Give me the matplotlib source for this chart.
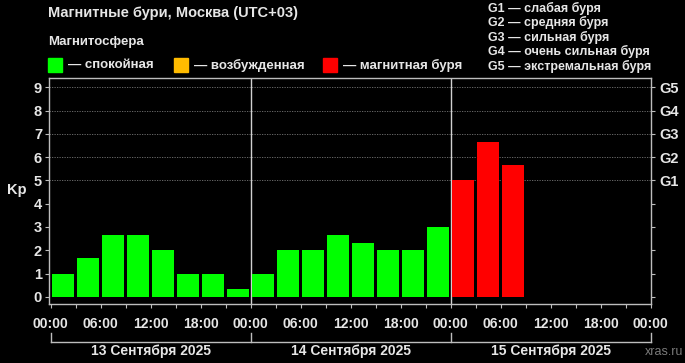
import matplotlib
matplotlib.use("Agg")
import matplotlib.pyplot as plt
from matplotlib.transforms import blended_transform_factory

plt.rcParams['font.family'] = ['Liberation Sans', 'DejaVu Sans']
plt.rcParams['font.weight'] = 'bold'

# Kp index, 3-hour intervals starting 13 Sep 2025 00:00 (UTC+03)
kp_values = [1, 1.67, 2.67, 2.67, 2, 1, 1, 0.33,
             1, 2, 2, 2.67, 2.33, 2, 2, 3,
             5, 6.67, 5.67]
day_labels = ["13 Сентября 2025", "14 Сентября 2025", "15 Сентября 2025"]
hour_labels = ["00:00", "06:00", "12:00", "18:00"] * 3 + ["00:00"]
g_labels = ["G1", "G2", "G3", "G4", "G5"]
g_legend = ["G1 — слабая буря", "G2 — средняя буря", "G3 — сильная буря",
            "G4 — очень сильная буря", "G5 — экстремальная буря"]
state_labels = ["— спокойная", "— возбужденная", "— магнитная буря"]
state_colors = ["#00ff00", "#ffbb00", "#ff0000"]

FG = "#e6e6e6"
FRAME = "#bdbdbd"


def kp_color(v):
    if v < 4:
        return state_colors[0]
    if v < 5:
        return state_colors[1]
    return state_colors[2]


fig = plt.figure(figsize=(6.85, 3.63), dpi=100, facecolor="black")
ax = fig.add_axes([49 / 685, 1 - 304 / 363, 602 / 685, 226 / 363])
ax.set_facecolor("black")

x = [i * 3 + 1.5 for i in range(len(kp_values))]
ax.bar(x, kp_values, width=2.65, color=[kp_color(v) for v in kp_values], zorder=3)

ax.set_xlim(-0.2, 72.05)
ax.set_ylim(-0.31, 9.4)

for d in (24, 48):
    ax.axvline(d, color="#d0d0d0", lw=1.0, zorder=2)
for g in range(5, 10):
    ax.axhline(g, color="#777777", lw=0.6, ls=(0, (1.5, 1.5)), zorder=1)

for s in ax.spines.values():
    s.set_color(FRAME)
    s.set_linewidth(1.0)

ax.set_xticks(range(0, 73, 6))
ax.set_xticklabels(hour_labels)
ax.set_xticks(range(0, 73, 3), minor=True)
ax.tick_params(axis="x", which="both", colors=FRAME, length=3, width=0.8,
               labelcolor=FG, labelsize=10, pad=6)
ax.set_yticks(range(0, 10))
ax.tick_params(axis="y", colors=FRAME, length=3, width=0.8,
               labelcolor=FG, labelsize=10.5, pad=2)

ax2 = ax.twinx()
ax2.set_ylim(ax.get_ylim())
ax2.set_yticks(range(0, 10))
ax2.set_yticklabels([""] * 5 + g_labels)
ax2.tick_params(axis="y", colors=FRAME, length=3, width=0.8,
                labelcolor=FG, labelsize=10.5, pad=3)
for s in ax2.spines.values():
    s.set_visible(False)

fig.text(17 / 685, 1 - 190 / 363, "Kp", color=FG, fontsize=10.5,
         ha="center", va="center")

# day bracket under the hour labels
tr = blended_transform_factory(ax.transData, ax.transAxes)
yb_top = -(333 - 304) / 226
yb = -(342 - 304) / 226
ax.plot([0, 72], [yb, yb], color=FRAME, lw=1.0, transform=tr, clip_on=False)
for d in (0, 24, 48, 72):
    ax.plot([d, d], [yb_top, yb], color=FRAME, lw=1.0, transform=tr, clip_on=False)
for i, lab in enumerate(day_labels):
    ax.text(i * 24 + 12, -(351 - 304) / 226, lab, transform=tr, color=FG,
            fontsize=10, ha="center", va="center")

fig.text(683 / 685, 1 - 352 / 363, "xras.ru", color="#7a7a7a", fontsize=9,
         ha="right", va="center", fontweight="normal")

# header
fig.text(48 / 685, 1 - 13 / 363, "Магнитные бури, Москва (UTC+03)", color=FG,
         fontsize=10.5, ha="left", va="center")
fig.text(48 / 685, 1 - 42 / 363, "Магнитосфера", color=FG, fontsize=9.5,
         ha="left", va="center")
sq_x = [48, 174, 323]
for sx, lab, col in zip(sq_x, state_labels, state_colors):
    fig.patches.append(plt.Rectangle((sx / 685, 1 - 72 / 363), 14 / 685, 14 / 363,
                                     transform=fig.transFigure, color=col))
    fig.text((sx + 20) / 685, 1 - 65 / 363, lab, color=FG, fontsize=9.5,
             ha="left", va="center")
for i, lab in enumerate(g_legend):
    fig.text(488 / 685, 1 - (8 + i * 14.5) / 363, lab, color=FG, fontsize=9,
             ha="left", va="center")

fig.savefig("out.png", dpi=100, facecolor="black")
